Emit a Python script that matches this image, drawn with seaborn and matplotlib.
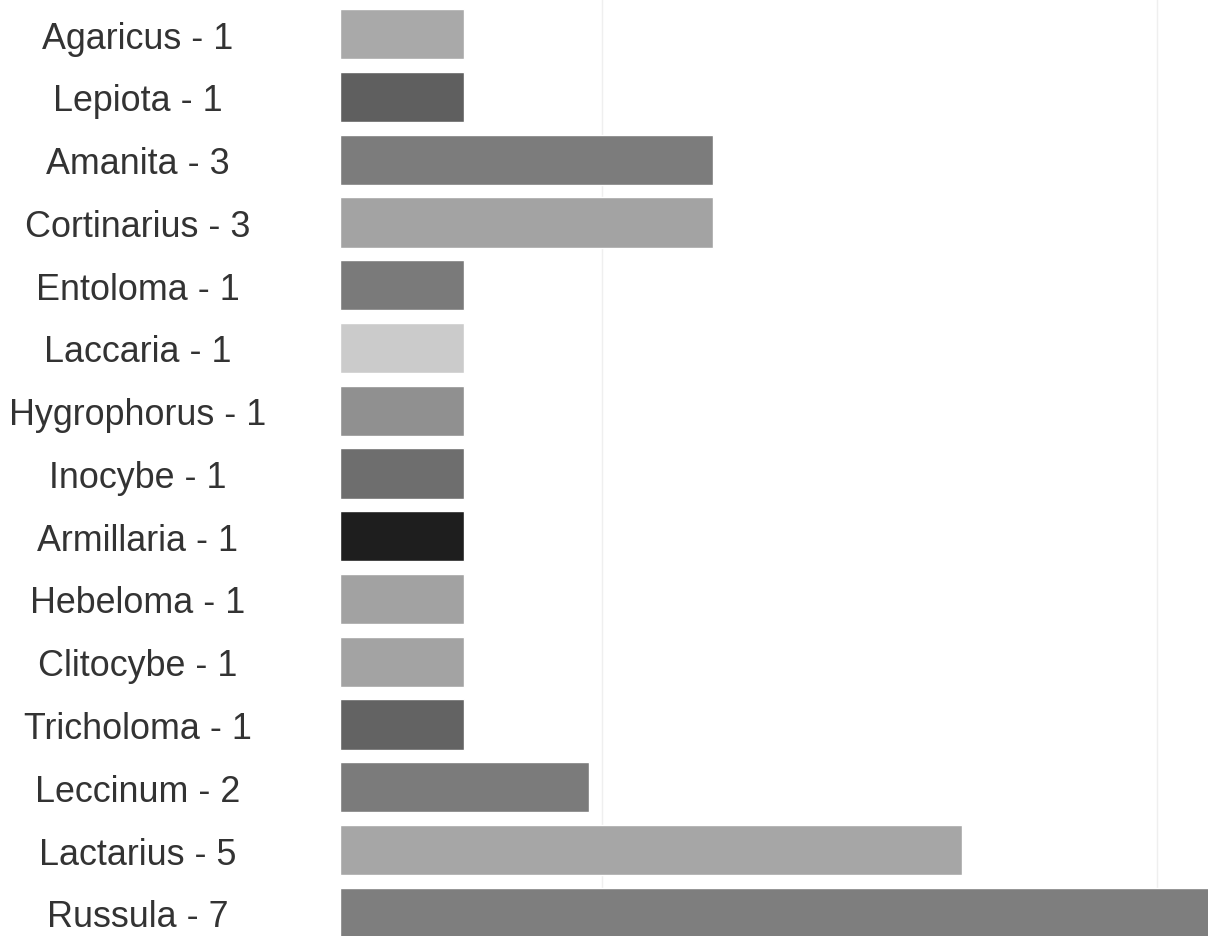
import matplotlib
matplotlib.use("Agg")
import matplotlib.pyplot as plt
import seaborn as sns
import pandas as pd

# ---- data ----
genera = ["Agaricus", "Lepiota", "Amanita", "Cortinarius", "Entoloma", "Laccaria",
          "Hygrophorus", "Inocybe", "Armillaria", "Hebeloma", "Clitocybe",
          "Tricholoma", "Leccinum", "Lactarius", "Russula"]
counts = [1, 1, 3, 3, 1, 1, 1, 1, 1, 1, 1, 1, 2, 5, 7]
bar_colors = ["#a9a9a9", "#5f5f5f", "#7c7c7c", "#a3a3a3", "#7a7a7a", "#cbcbcb",
              "#909090", "#6e6e6e", "#1e1e1e", "#a2a2a2", "#a3a3a3", "#636363",
              "#7b7b7b", "#a6a6a6", "#7e7e7e"]
labels = [f"{g} - {c}" for g, c in zip(genera, counts)]

df = pd.DataFrame({"label": labels, "count": counts})

sns.set_theme(style="white")
plt.rcParams["font.family"] = ["Liberation Sans", "DejaVu Sans"]

fig = plt.figure(figsize=(12.08, 9.37), dpi=100)
ax = fig.add_axes([340 / 1208, 0.0, 1 - 340 / 1208, 1.0])

sns.barplot(data=df, x="count", y="label", hue="label", palette=bar_colors,
            legend=False, width=0.8, saturation=1, orient="h", ax=ax)

ax.set_xlim(0, 6.98)
ax.set_ylim(14.37, -0.56)

# faint vertical gridlines
ax.set_xticks([2.11, 6.57])
ax.set_xticklabels([])
ax.grid(axis="x", color="#efefef", linewidth=1.0)
ax.set_axisbelow(True)
ax.tick_params(axis="x", length=0)

ax.set_xlabel("")
ax.set_ylabel("")
for s in ax.spines.values():
    s.set_visible(False)

ax.tick_params(axis="y", length=0, pad=145.8, labelsize=25.8, labelcolor="#333333")
for t in ax.get_yticklabels():
    t.set_horizontalalignment("center")

fig.savefig("out.png", dpi=100)
